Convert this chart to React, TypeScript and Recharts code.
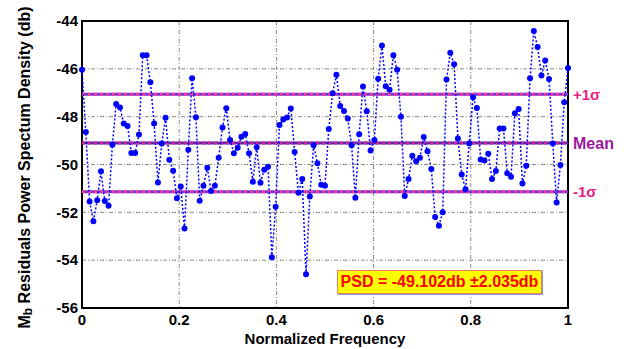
import React from 'react'
import { LineChart, Line, XAxis, YAxis, CartesianGrid, ReferenceLine, ReferenceArea, Label } from 'recharts'

// residual PSD (db), 129 bins over normalized frequency 0..1
const psdValues = [
  -46.04, -48.64, -51.55, -52.37, -51.49, -50.28, -51.53, -51.72, -49.17, -47.47,
  -47.62, -48.29, -48.39, -49.52, -49.52, -48.75, -45.43, -45.43, -46.56, -48.29,
  -50.75, -49.12, -48.05, -49.80, -50.26, -51.41, -50.92, -52.68, -49.38, -46.39,
  -48.02, -51.52, -50.89, -50.14, -51.11, -50.89, -49.72, -48.45, -47.65, -48.98,
  -49.53, -49.30, -48.84, -48.72, -49.53, -50.72, -49.28, -50.76, -50.22, -50.09,
  -53.88, -51.77, -48.35, -48.12, -48.03, -47.66, -49.48, -51.18, -50.61, -54.59,
  -51.34, -49.19, -49.95, -50.85, -50.89, -48.52, -47.02, -46.25, -47.55, -47.76,
  -48.08, -49.19, -51.39, -48.74, -46.74, -47.77, -49.41, -48.98, -46.41, -45.02,
  -46.73, -46.87, -45.43, -46.04, -48.00, -51.32, -50.61, -49.63, -49.86, -49.72,
  -48.85, -49.45, -50.19, -52.20, -52.56, -52.00, -46.45, -45.33, -45.81, -48.91,
  -50.42, -51.03, -49.12, -47.19, -47.64, -49.79, -49.83, -49.55, -50.61, -50.27,
  -48.49, -48.49, -50.37, -50.51, -47.86, -47.68, -50.79, -50.05, -46.39, -44.42,
  -45.09, -46.28, -45.65, -46.42, -49.12, -51.59, -50.02, -47.40, -45.97,
]
const frequencies = psdValues.map((_, i) => i / (psdValues.length - 1))

const xTicks = [0, 0.2, 0.4, 0.6, 0.8, 1]
const yTicks = [-56, -54, -52, -50, -48, -46, -44]

const psdMean = -49.102
const psdStd = 2.035

const data = frequencies.map((f, i) => ({ f, psd: psdValues[i] }))

const font = '"Liberation Sans", Arial, Helvetica, sans-serif'

function YLabel(props: any) {
  const vb = props.viewBox || { x: 0, y: 21, width: 82, height: 287 }
  const cx = vb.x + 24
  const cy = vb.y + vb.height / 2 + 3
  return (
    <text
      x={cx}
      y={cy}
      transform={`rotate(-90 ${cx} ${cy})`}
      textAnchor="middle"
      dominantBaseline="central"
      fontFamily={font}
      fontWeight="bold"
      fontSize={16}
      fill="#000"
    >
      M<tspan dy={4} fontSize={12}>b</tspan>
      <tspan dy={-4}> Residuals Power Spectum Density (db)</tspan>
    </text>
  )
}

export default function App() {
  const tickStyle = { fontFamily: font, fontWeight: 'bold' as const, fontSize: 15, fill: '#000' }
  const sigmaLabel = { fontFamily: font, fontWeight: 'bold', fontSize: 15, fill: '#e6207f' }

  return (
    <div style={{ position: 'absolute', left: 0, top: 0, width: 634, height: 349, background: '#fff' }}>
      <LineChart width={634} height={349} data={data} margin={{ top: 21, right: 66, left: 0, bottom: 0 }}>
        <CartesianGrid stroke="#8a8a8a" strokeDasharray="4 2 1 2" strokeWidth={1} />
        <XAxis
          dataKey="f"
          type="number"
          domain={[0, 1]}
          ticks={xTicks}
          height={41}
          axisLine={false}
          tickLine={false}
          tickSize={4}
          tickMargin={2}
          tick={tickStyle}
          interval={0}
        >
          <Label value="Normalized Frequency" position="insideBottom" offset={5}
            style={{ fontFamily: font, fontWeight: 'bold', fontSize: 15, fill: '#000' }} />
        </XAxis>
        <YAxis
          type="number"
          domain={[-56, -44]}
          ticks={yTicks}
          width={82}
          axisLine={false}
          tickLine={false}
          tickSize={2}
          tickMargin={2}
          tick={tickStyle}
          interval={0}
        >
          <Label content={YLabel} />
        </YAxis>
        <ReferenceArea x1={0} x2={1} y1={-56} y2={-44} fill="none" stroke="#000" strokeWidth={2} />

        <ReferenceLine y={psdMean + psdStd} stroke="#6a3ad6" strokeWidth={3} />
        <ReferenceLine y={psdMean + psdStd} stroke="#ff3399" strokeWidth={3} strokeDasharray="3 3"
          label={{ value: '+1σ', position: 'right', ...sigmaLabel }} />
        <ReferenceLine y={psdMean} stroke="#5a2aa8" strokeWidth={3} />
        <ReferenceLine y={psdMean} stroke="#d0209a" strokeWidth={3} strokeDasharray="3 3"
          label={{ value: 'Mean', position: 'right', fontFamily: font, fontWeight: 'bold', fontSize: 16, fill: '#99199c' }} />
        <ReferenceLine y={psdMean - psdStd} stroke="#6a3ad6" strokeWidth={3} />
        <ReferenceLine y={psdMean - psdStd} stroke="#ff3399" strokeWidth={3} strokeDasharray="3 3"
          label={{ value: '-1σ', position: 'right', ...sigmaLabel }} />

        <Line
          type="linear"
          dataKey="psd"
          stroke="#0000ff"
          strokeWidth={1.5}
          strokeDasharray="2 2"
          dot={{ r: 3, fill: '#0000ff', stroke: 'none' }}
          activeDot={false}
          isAnimationActive={false}
        />
      </LineChart>
      <div
        style={{
          position: 'absolute',
          left: 337,
          top: 270,
          width: 205,
          height: 24,
          boxSizing: 'border-box',
          background: '#ffff00',
          border: '1px solid #e88060',
          boxShadow: '1px 1px 0 #9090e0',
          color: '#ff0000',
          fontFamily: font,
          fontWeight: 'bold',
          fontSize: 16,
          lineHeight: '22px',
          textAlign: 'center',
          whiteSpace: 'nowrap',
        }}
      >
        PSD = {psdMean.toFixed(3)}db ±{psdStd.toFixed(3)}db
      </div>
    </div>
  )
}
